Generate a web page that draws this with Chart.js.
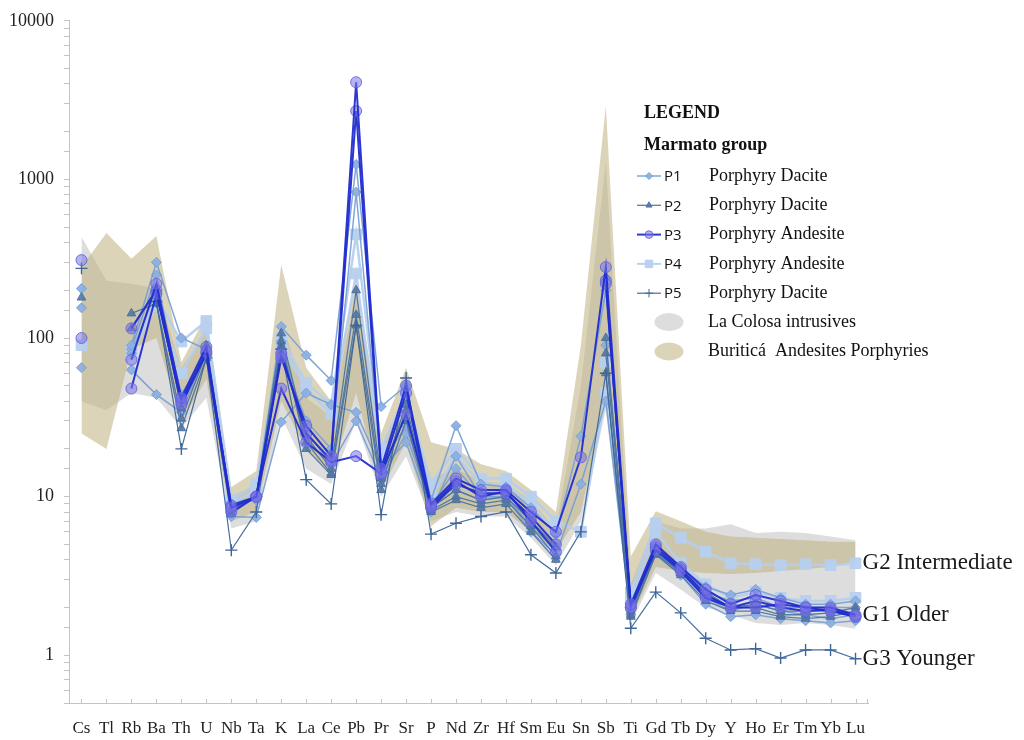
<!DOCTYPE html>
<html>
<head>
<meta charset="utf-8">
<title>Spider diagram – Marmato group</title>
<script src="https://cdn.jsdelivr.net/npm/chart.js@4.4.1/dist/chart.umd.min.js"></script>
<style>
  html, body { margin: 0; padding: 0; background: #ffffff; }
  #wrap { width: 1024px; height: 740px; position: relative; }
</style>
</head>
<body>
<div id="wrap"><canvas id="chart" width="1024" height="740"></canvas></div>
<script>
// ---- categories and axis labels ----
const elements = ['Cs','Tl','Rb','Ba','Th','U','Nb','Ta','K','La','Ce','Pb','Pr','Sr','P','Nd','Zr','Hf','Sm','Eu','Sn','Sb','Ti','Gd','Tb','Dy','Y','Ho','Er','Tm','Yb','Lu'];
const yTickLabels = [1, 10, 100, 1000, 10000];

// ---- reference envelopes (upper / lower bound per element) ----
const colosaHigh   = [435, 230, 220, 205, 65, 110, 10, 12, 130, 42, 32, 200, 20, 45, 13, 15, 12.5, 12, 9.5, 6.2, 50, 1300, 2.8, 7.0, 6.3, 6.3, 6.7, 5.9, 6.0, 5.9, 5.6, 5.3];
const colosaLow    = [40, 35, 45, 42, 27, 42, 6.3, 7, 32, 15, 12, 30, 10, 18, 7, 8, 7.5, 7.5, 5.5, 3.7, 7, 35, 1.6, 3.3, 2.6, 2.0, 1.8, 1.6, 1.55, 1.6, 1.55, 1.47];
const buriticaHigh = [280, 460, 316, 440, 70, 140, 11.5, 14.5, 290, 65, 40, 240, 25, 65, 22, 20, 16, 14.5, 11, 8, 90, 2900, 4.2, 8.1, 7.0, 6.0, 5.6, 5.5, 5.4, 5.3, 5.2, 5.2];
const buriticaLow  = [25, 20, 85, 100, 30, 55, 7, 8, 40, 20, 14, 45, 11, 22, 6.5, 8.5, 8, 8, 6, 4.5, 8, 40, 1.7, 3.6, 3.4, 3.3, 3.25, 3.3, 3.4, 3.5, 3.6, 3.9];

// ---- Marmato group samples (normalised concentrations) ----
// P1 porphyry dacite
const p1a = [205, null, 90, 300, 100, 85, 9.0, 10, 118, 78, 54, 1240, 37, 50, 9.5, 28, 12, 11.5, 8.5, 5.8, 24, 200, 2.0, 4.9, 3.6, 2.7, 2.4, 2.6, 2.3, 2.1, 2.1, 2.2];
const p1b = [155, null, 63, 44, 34, 80, 7.5, 7.4, 29.5, 45, 38, 34, 15, 22, 8, 18, 10, 10, 6, 4.3, 12, 40, 1.8, 4.4, 3.2, 2.1, 1.75, 1.8, 1.7, 1.65, 1.6, 1.65];
const p1c = [65, null, 85, 250, 40, 85, 8.5, 10, 81, 30, 20, 830, 16, 28, 8.8, 15, 10, 11, 7, 5, null, 240, 2.1, 5.0, 3.5, 2.5, 2.2, 2.3, 2.0, 2.0, 2.0, 2.0];
const p1d = [null, null, 80, 200, 44, 80, 9, 9.5, 95, 26, 16, 30, 13, 25, 8.5, 11, 9.5, 10, 6.5, 4.6, null, 90, 1.9, 4.5, 3.3, 2.3, 1.9, 2.1, 1.9, 1.8, 1.7, 1.8];
// P2 porphyry dacite
const p2a = [180, null, 143, 165, 31, 80, 8, 10, 107, 24, 15, 200, 13, 38, 8.5, 11, 9.5, 10, 7, 4.8, null, 100, 1.9, 4.6, 3.5, 2.5, 2.0, 2.1, 1.9, 1.9, 1.9, 1.85];
const p2b = [null, null, 115, 205, 36, 90, 8.3, 10, 89, 22, 14, 140, 12, 35, 8.2, 10, 9, 9.5, 6.5, 4.2, null, 80, 1.8, 4.4, 3.3, 2.4, 2.0, 2.0, 1.8, 1.8, 1.85, 2.0];
const p2c = [null, null, null, 165, 27, 75, 7.8, 10, 95, 20, 13.7, 120, 11, 30, 8, 9.5, 8.5, 9, 6, 4, null, 60, 1.75, 4.3, 3.2, 2.2, 1.9, 1.9, 1.75, 1.7, 1.75, 1.9];
// P3 porphyry andesite
const p3a = [310, null, 73, 220, 42, 88, 8.5, 10, 75, 28, 18, 4100, 15, 50, 9, 13, 11, 11, 8, 6, 17.7, 280, 2.1, 5.0, 3.6, 2.6, 2.1, 2.4, 2.2, 2.0, 2.0, 1.8];
const p3b = [100, null, 115, 200, 38, 80, 8, 10, 80, 25, 17, 2700, 14, 45, 8.5, 12, 10.5, 10.5, 7.5, 5, null, 230, 2.0, 4.8, 3.5, 2.4, 2.0, 2.2, 2.0, 1.9, 1.95, 1.75];
const p3c = [null, null, 48, 190, 40, 82, 8.8, 10, 48, 22, 16.5, 18, 14, 33, 8.7, 12.5, 10, 10.8, 7, 4.5, null, 220, 2.0, 4.6, 3.4, 2.3, 2.0, 2.0, 2.1, 2.0, 1.9, 1.75];
// P4 porphyry andesite
const p4a = [90, null, 85, 180, 95, 128, 9.5, 12, 100, 52, 38, 450, 20, 45, 12, 20, 13, 13, 10, 7, 6, 45, 2.5, 6.8, 5.5, 4.5, 3.8, 3.75, 3.7, 3.75, 3.7, 3.8];
const p4b = [null, null, 80, 160, 60, 115, 9, 11, 90, 48, 33, 255, 17, 40, 10, 18, 12, 12, 9, 6, null, 70, 2.2, 6.0, 3.8, 2.8, 2.3, 2.5, 2.3, 2.2, 2.2, 2.3];
// P5 porphyry dacite
const p5a = [275, null, null, 170, 20, 75, 4.6, 8, 85, 12.8, 9, 120, 7.7, 56, 5.8, 6.8, 7.5, 8, 4.3, 3.3, 6, 60, 1.48, 2.5, 1.85, 1.28, 1.08, 1.1, 0.96, 1.08, 1.08, 0.95];

// ---- legend and label texts ----
const legendTitle = 'LEGEND';
const legendGroup = 'Marmato group';
const legendCodes = ['P1', 'P2', 'P3', 'P4', 'P5'];
const legendNames = ['Porphyry Dacite', 'Porphyry Dacite', 'Porphyry Andesite', 'Porphyry Andesite', 'Porphyry Dacite'];
const envelopeNames = ['La Colosa intrusives', 'Buriticá  Andesites Porphyries'];
const groupLabels = ['G2 Intermediate', 'G1 Older', 'G3 Younger'];
const groupAnchors = [p4a, p3a, p5a];

// ---- styling ----
const SERIF = '"Liberation Serif", "DejaVu Serif", serif';
const SANS = '"Open Sans", "Noto Sans", sans-serif';
const GREY_FILL = 'rgba(175,175,175,0.42)';
const KHAKI_FILL = 'rgba(190,176,128,0.55)';
const STYLE = {
  P1: { line: 'rgba(118,158,212,0.92)', fill: 'rgba(140,176,224,0.95)', border: 'rgba(120,160,214,1)', point: 'rectRot', r: 5, w: 1.5 },
  P2: { line: 'rgba(76,114,160,0.92)', fill: 'rgba(84,120,164,0.9)', border: 'rgba(76,114,160,1)', point: 'triangle', r: 5, w: 1.3 },
  P3: { line: 'rgba(34,44,208,0.95)', fill: 'rgba(122,116,232,0.55)', border: 'rgba(96,96,218,0.85)', point: 'circle', r: 5.5, w: 2 },
  P4: { line: 'rgba(182,207,238,0.95)', fill: 'rgba(184,208,238,0.97)', border: 'rgba(184,208,238,1)', point: 'rect', r: 7.5, w: 2.5 },
  P5: { line: 'rgba(62,102,152,0.95)', fill: 'rgba(62,102,152,1)', border: 'rgba(62,102,152,1)', point: 'cross', r: 6, w: 1.2 }
};

function sample(group, values, order) {
  const s = STYLE[group];
  return {
    label: group, data: values, order,
    borderColor: s.line, borderWidth: s.w, fill: false, spanGaps: false, tension: 0,
    pointStyle: s.point, pointRadius: s.r, pointHoverRadius: s.r,
    pointBackgroundColor: s.fill, pointBorderColor: s.border,
    pointBorderWidth: group === 'P5' ? 1.4 : 1
  };
}

function envelope(label, values, fillTarget, color, order) {
  return {
    label, data: values, order,
    borderColor: 'rgba(0,0,0,0)', borderWidth: 1, pointRadius: 0, pointHoverRadius: 0,
    fill: fillTarget === null ? false : { target: fillTarget }, backgroundColor: color, tension: 0
  };
}

const datasets = [
  envelope('La Colosa high', colosaHigh, 1, GREY_FILL, 20),
  envelope('La Colosa low', colosaLow, null, GREY_FILL, 20),
  envelope('Buriticá high', buriticaHigh, 3, KHAKI_FILL, 19),
  envelope('Buriticá low', buriticaLow, null, KHAKI_FILL, 19),
  sample('P4', p4a, 6), sample('P4', p4b, 6),
  sample('P1', p1a, 5), sample('P1', p1b, 5), sample('P1', p1c, 5), sample('P1', p1d, 5),
  sample('P2', p2a, 4), sample('P2', p2b, 4), sample('P2', p2c, 4),
  sample('P5', p5a, 3),
  sample('P3', p3c, 2), sample('P3', p3b, 2), sample('P3', p3a, 1)
];

// upward category ticks, legend box and group labels
const overlay = {
  id: 'overlay',
  afterDraw(chart) {
    const { ctx, chartArea: area } = chart;
    const xs = chart.scales.x, ys = chart.scales.y;
    ctx.save();

    ctx.strokeStyle = '#c4c4c4';
    ctx.lineWidth = 1;
    ctx.beginPath();
    elements.forEach((_, i) => {
      const px = Math.round(xs.getPixelForValue(i)) + 0.5;
      ctx.moveTo(px, area.bottom);
      ctx.lineTo(px, area.bottom - 4);
    });
    ctx.moveTo(area.right - 0.5, area.bottom);
    ctx.lineTo(area.right - 0.5, area.bottom - 4);
    ctx.stroke();

    // legend
    const lx0 = 637, lx1 = 661, codeX = 664, nameX = 709;
    ctx.fillStyle = '#111';
    ctx.textBaseline = 'middle';
    ctx.textAlign = 'left';
    ctx.font = 'bold 18px ' + SERIF;
    ctx.fillText(legendTitle, 644, 113);
    ctx.fillText(legendGroup, 644, 145);
    legendCodes.forEach((code, i) => {
      const y = 176 + i * 29.3;
      const s = STYLE[code];
      ctx.strokeStyle = s.line;
      ctx.lineWidth = Math.min(s.w, 2);
      ctx.beginPath();
      ctx.moveTo(lx0, y); ctx.lineTo(lx1, y);
      ctx.stroke();
      ctx.fillStyle = s.fill;
      ctx.strokeStyle = s.border;
      ctx.lineWidth = 1;
      Chart.helpers.drawPoint(ctx, { pointStyle: s.point, radius: s.r * 0.7, rotation: 0, borderWidth: 1 }, (lx0 + lx1) / 2, y);
      ctx.fillStyle = '#111';
      ctx.font = '15px ' + SANS;
      ctx.fillText(code, codeX, y + 1);
      ctx.font = '18px ' + SERIF;
      ctx.fillText(legendNames[i], nameX, y);
    });
    [GREY_FILL, KHAKI_FILL].forEach((col, i) => {
      const y = 322 + i * 29.5;
      ctx.fillStyle = col;
      ctx.beginPath();
      ctx.ellipse(669, y, 14.5, 9, 0, 0, Math.PI * 2);
      ctx.fill();
      ctx.fillStyle = '#111';
      ctx.font = '18px ' + SERIF;
      ctx.fillText(envelopeNames[i], 708, y);
    });

    // group labels beside the last element
    ctx.font = '23px ' + SERIF;
    ctx.fillStyle = '#1a1a1a';
    const lastIdx = elements.length - 1;
    const gx = xs.getPixelForValue(lastIdx) + 7;
    groupLabels.forEach((txt, i) => {
      ctx.fillText(txt, gx, ys.getPixelForValue(groupAnchors[i][lastIdx]));
    });
    ctx.restore();
  }
};

new Chart(document.getElementById('chart'), {
  type: 'line',
  data: { labels: elements, datasets },
  options: {
    responsive: false,
    animation: false,
    devicePixelRatio: 1,
    events: [],
    layout: { padding: { top: 15, right: 156, left: 0, bottom: 0 } },
    plugins: {
      legend: { display: false },
      tooltip: { enabled: false },
      filler: { drawTime: 'beforeDatasetsDraw' }
    },
    scales: {
      x: {
        type: 'category',
        offset: true,
        grid: { display: false },
        border: { display: true, color: '#c4c4c4', width: 1 },
        ticks: { autoSkip: false, maxRotation: 0, padding: 7, color: '#222', font: { family: SERIF, size: 17 } },
        afterFit(scale) { scale.height = 37; }
      },
      y: {
        type: 'logarithmic',
        min: 0.5,
        max: 10000,
        grid: { display: true, drawOnChartArea: false, drawTicks: true, tickLength: 5, color: '#c4c4c4' },
        border: { display: true, color: '#c4c4c4', width: 1 },
        ticks: {
          autoSkip: false, padding: 10, color: '#222', font: { family: SERIF, size: 18 },
          callback(value) {
            const v = Number(Number(value).toPrecision(6));
            return yTickLabels.includes(v) ? String(v) : '';
          }
        },
        afterFit(scale) { scale.width = 69; }
      }
    }
  },
  plugins: [overlay]
});
</script>
</body>
</html>
